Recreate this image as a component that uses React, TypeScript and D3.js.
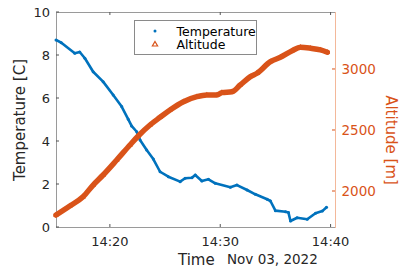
import React from "react";
import * as d3 from "d3";

const tempTimes = ["14:15:07","14:15:36","14:16:49","14:17:16","14:17:44","14:18:29","14:19:23","14:20:18","14:21:04","14:21:40","14:21:58","14:22:26","14:22:44","14:23:20","14:23:56","14:24:33","14:25:18","14:26:22","14:26:49","14:27:26","14:27:44","14:28:20","14:28:56","14:29:33","14:30:55","14:31:31","14:32:26","14:33:11","14:34:15","14:34:33","14:35:00","14:35:55","14:36:11","14:36:22","14:36:58","14:37:53","14:38:38","14:39:15","14:39:38"];
const tempValues = [8.7,8.57,8.08,8.14,7.85,7.22,6.76,6.14,5.6,5.01,4.7,4.43,4.05,3.58,3.16,2.57,2.34,2.11,2.27,2.29,2.42,2.14,2.22,2.03,1.85,1.95,1.72,1.52,1.29,1.21,0.76,0.71,0.67,0.28,0.43,0.36,0.64,0.74,0.92];

const altTimes = ["14:15:07","14:16:22","14:17:34","14:18:29","14:19:23","14:20:37","14:21:49","14:22:34","14:23:38","14:24:33","14:25:27","14:26:40","14:27:53","14:28:47","14:29:42","14:30:09","14:31:04","14:31:49","14:32:44","14:33:20","14:34:33","14:35:27","14:36:31","14:37:16","14:38:11","14:39:05","14:39:42"];
const altValues = [1803,1877,1953,2049,2131,2254,2377,2451,2541,2604,2664,2732,2773,2787,2787,2806,2814,2869,2937,2965,3060,3096,3150,3178,3170,3156,3137];

const tempTicks = [0, 2, 4, 6, 8, 10];
const altTicks = [2000, 2500, 3000];
const timeTicks = ["14:20:00", "14:30:00", "14:40:00"];
const xDomain = ["14:15:07", "14:40:24"];
const tempDomain = [0, 10];
const altDomain = [1705, 3467];
const dateLabel = "Nov 03, 2022";

const parse = (s: string) => {
  const [h, m, sec] = s.split(":").map(Number);
  return new Date(2022, 10, 3, h, m, sec);
};

const BLUE = "#0072BD";
const ORANGE = "#D95319";
const FONT = "DejaVu Sans, sans-serif";

export default function App() {
  const W = 400, H = 271;
  const L = 56, R = 335, T = 12, B = 227;
  const x = d3.scaleTime().domain(xDomain.map(parse)).range([L, R]);
  const yT = d3.scaleLinear().domain(tempDomain).range([B, T]);
  const yA = d3.scaleLinear().domain(altDomain).range([B, T]);
  const fmt = d3.timeFormat("%H:%M");

  const tempData = tempTimes.map((t, i) => ({ t: parse(t), v: tempValues[i] }));
  const altData = altTimes.map((t, i) => ({ t: parse(t), v: altValues[i] }));
  const tLine = d3.line<any>().x(d => x(d.t)).y(d => yT(d.v));
  const aLine = d3.line<any>().x(d => x(d.t)).y(d => yA(d.v)).curve(d3.curveMonotoneX);
  const tri = d3.symbol().type(d3.symbolTriangle).size(14)();

  const ticksX = timeTicks.map(parse);
  const tl = 3;

  return (
    <svg width={W} height={H} style={{ position: "absolute", left: 0, top: 0, background: "#fff" }} fontFamily={FONT}>
      <rect x={0} y={0} width={W} height={H} fill="#fff" />
      {/* axes box */}
      <line x1={L} x2={R} y1={T + 0.5} y2={T + 0.5} stroke="#9a9a9a" strokeWidth={1} />
      <line x1={L} x2={R} y1={B + 0.5} y2={B + 0.5} stroke="#9a9a9a" strokeWidth={1} />
      <line x1={L + 0.5} x2={L + 0.5} y1={T} y2={B + 1} stroke="#9a9a9a" strokeWidth={1} />
      <line x1={R + 0.5} x2={R + 0.5} y1={T} y2={B + 1} stroke="#f3b89a" strokeWidth={1} />

      {/* x ticks */}
      {ticksX.map((d, i) => (
        <g key={"xt" + i}>
          <line x1={x(d)} x2={x(d)} y1={B} y2={B - tl} stroke="#555" />
          <line x1={x(d)} x2={x(d)} y1={T} y2={T + tl} stroke="#555" />
          <text x={x(d)} y={241.5} fontSize={13} fill="#262626" textAnchor="middle" dominantBaseline="central">{fmt(d)}</text>
        </g>
      ))}
      {/* left ticks */}
      {tempTicks.map((v, i) => (
        <g key={"yt" + i}>
          <line x1={L} x2={L + tl} y1={yT(v)} y2={yT(v)} stroke="#555" />
          <text x={50} y={yT(v)} fontSize={13} fill="#262626" textAnchor="end" dominantBaseline="central">{v}</text>
        </g>
      ))}
      {/* right ticks */}
      {altTicks.map((v, i) => (
        <g key={"ya" + i}>
          <line x1={R} x2={R - tl} y1={yA(v)} y2={yA(v)} stroke={ORANGE} />
          <text x={341.5} y={yA(v)} fontSize={13.5} fill={ORANGE} textAnchor="start" dominantBaseline="central">{v}</text>
        </g>
      ))}

      {/* temperature */}
      <path d={tLine(tempData) || ""} fill="none" stroke={BLUE} strokeWidth={2.6} strokeLinejoin="round" />
      {tempData.map((d, i) => (
        <circle key={"tc" + i} cx={x(d.t)} cy={yT(d.v)} r={1.5} fill={BLUE} />
      ))}
      {/* altitude */}
      <path d={aLine(altData) || ""} fill="none" stroke={ORANGE} strokeWidth={5.5} strokeLinejoin="round" strokeLinecap="round" />
      {altData.map((d, i) => (
        <path key={"ac" + i} d={tri || ""} transform={`translate(${x(d.t)},${yA(d.v)})`} fill={ORANGE} />
      ))}

      {/* labels */}
      <text transform={`translate(20,120) rotate(-90)`} fontSize={15} fill="#262626" textAnchor="middle" dominantBaseline="central">Temperature [C]</text>
      <text transform={`translate(391,140) rotate(90)`} fontSize={15} fill={ORANGE} textAnchor="middle" dominantBaseline="central">Altitude [m]</text>
      <text x={178} y={260} fontSize={15} fill="#262626" dominantBaseline="central">Time</text>
      <text x={227} y={259} fontSize={13.5} fill="#262626" dominantBaseline="central">{dateLabel}</text>

      {/* legend */}
      <rect x={134.5} y={20.5} width={122} height={34} fill="#fff" stroke="#8a8a8a" strokeWidth={1} />
      <circle cx={155} cy={31} r={1.5} fill={BLUE} />
      <path d={d3.symbol().type(d3.symbolTriangle).size(12)() || ""} transform="translate(155,44.5)" fill="none" stroke={ORANGE} strokeWidth={1.2} />
      <text x={176.5} y={31} fontSize={12.5} fill="#000" dominantBaseline="central">Temperature</text>
      <text x={176.5} y={44.5} fontSize={12.5} fill="#000" dominantBaseline="central">Altitude</text>
    </svg>
  );
}
